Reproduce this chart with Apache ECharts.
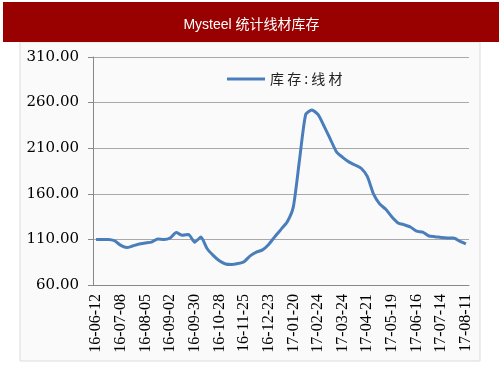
<!DOCTYPE html>
<html>
<head>
<meta charset="utf-8">
<script src="https://cdn.jsdelivr.net/npm/echarts@6/dist/echarts.min.js"></script>
<style>
  html, body { margin: 0; padding: 0; background: #ffffff; }
  #chart { width: 503px; height: 378px; }
</style>
</head>
<body>
<div id="chart"></div>
<script>
// weekly dates
const dates = [
  '16-06-12', '16-06-17', '16-06-24', '16-07-01', '16-07-08', '16-07-15', '16-07-22', '16-07-29',
  '16-08-05', '16-08-12', '16-08-19', '16-08-26', '16-09-02', '16-09-09', '16-09-14', '16-09-23',
  '16-09-30', '16-10-09', '16-10-14', '16-10-21', '16-10-28', '16-11-04', '16-11-11', '16-11-18',
  '16-11-25', '16-12-02', '16-12-09', '16-12-16', '16-12-23', '16-12-30', '17-01-06', '17-01-13',
  '17-01-20', '17-02-03', '17-02-10', '17-02-17', '17-02-24', '17-03-03', '17-03-10', '17-03-17',
  '17-03-24', '17-03-31', '17-04-07', '17-04-14', '17-04-21', '17-04-28', '17-05-05', '17-05-12',
  '17-05-19', '17-05-26', '17-06-02', '17-06-09', '17-06-16', '17-06-23', '17-06-30', '17-07-07',
  '17-07-14', '17-07-21', '17-07-28', '17-08-04', '17-08-11'
]
const stock = [
  110, 110, 110, 108.5, 103.5, 101, 103, 105,
  106, 107, 110.5, 110, 111.5, 117.5, 114.5, 115.5,
  107, 112.5, 100, 92.5, 86.5, 83, 82.5, 83.5,
  85.5, 92, 96, 98.5, 104.5, 113, 121, 129,
  145.7, 197, 246.8, 252, 247, 234, 220, 206,
  200, 195, 191.6, 188, 179, 160, 149, 143,
  134.6, 128, 126, 123.6, 119, 118, 113.7, 113,
  112, 111.5, 111.5, 108, 105
]
const seriesName = '库存:线材'
const yTicks = { min: 60, max: 310, interval: 50 }

const chart = echarts.init(document.getElementById('chart'), null, { renderer: 'canvas' })
const option = {
  animation: false,
  backgroundColor: '#ffffff',
  graphic: [
    {
      type: 'rect',
      z: -10,
      shape: { x: 20, y: 42, width: 460, height: 319 },
      style: { fill: '#fafafa', stroke: '#dcdcdc', lineWidth: 1 }
    },
    {
      type: 'rect',
      z: -5,
      shape: { x: 3, y: 2, width: 496, height: 40 },
      style: { fill: '#990000' }
    }
  ],
  title: {
    text: 'Mysteel 统计线材库存',
    left: 'center',
    top: 13,
    textStyle: {
      color: '#ffffff',
      fontSize: 14,
      fontWeight: 'normal',
      fontFamily: 'Liberation Sans, Noto Sans CJK SC'
    }
  },
  legend: {
    data: [seriesName],
    left: 227,
    top: 72,
    padding: 0,
    icon: 'rect',
    itemWidth: 38,
    itemHeight: 3,
    itemGap: 6,
    formatter: function (name) { return name.split('').join(' ') },
    textStyle: {
      fontSize: 14,
      color: '#222',
      fontFamily: 'Noto Sans CJK SC'
    }
  },
  grid: {
    left: 93,
    right: 34,
    top: 57,
    bottom: 93
  },
  xAxis: {
    type: 'category',
    data: dates,
    boundaryGap: true,
    axisLine: { lineStyle: { color: '#888', width: 1 } },
    axisTick: {
      inside: true,
      length: 4,
      interval: 0,
      lineStyle: { color: '#888' }
    },
    axisLabel: {
      interval: 3,
      rotate: 90,
      margin: 9,
      fontSize: 16,
      color: '#000',
      fontFamily: 'Liberation Serif'
    }
  },
  yAxis: {
    type: 'value',
    min: yTicks.min,
    max: yTicks.max,
    interval: yTicks.interval,
    axisLine: { show: true, lineStyle: { color: '#888', width: 1 } },
    axisTick: { show: true, length: 5, lineStyle: { color: '#888' } },
    splitLine: { lineStyle: { color: '#a8a8a8', width: 1 } },
    axisLabel: {
      margin: 14,
      fontSize: 15,
      color: '#000',
      fontFamily: 'DejaVu Serif',
      formatter: function (v) { return v.toFixed(2) }
    }
  },
  series: [{
    name: seriesName,
    type: 'line',
    data: stock,
    symbol: 'none',
    smooth: 0.2,
    lineStyle: { color: '#4a7ebb', width: 3 },
    itemStyle: { color: '#4a7ebb' }
  }]
}
chart.setOption(option)
</script>
</body>
</html>
